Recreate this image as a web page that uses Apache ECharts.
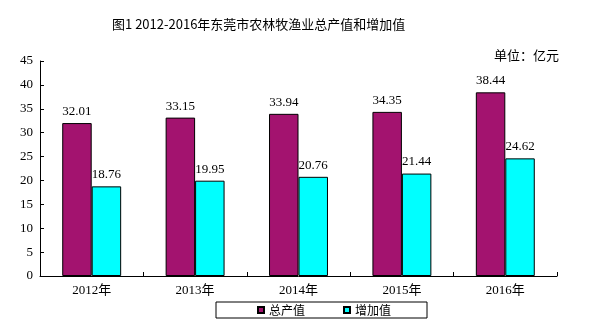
<!DOCTYPE html>
<html>
<head>
<meta charset="utf-8">
<script src="https://cdn.jsdelivr.net/npm/echarts@6/dist/echarts.min.js"></script>
<style>
  html, body { margin: 0; padding: 0; background: #fff; }
  #chart { width: 605px; height: 332px; }
</style>
</head>
<body>
<div id="chart"></div>
<script>
// Gross output and value added of agriculture, forestry, animal husbandry and fishery (100 million yuan)
var years = ['2012年', '2013年', '2014年', '2015年', '2016年'];
var grossOutput = [32.01, 33.15, 33.94, 34.35, 38.44];
var valueAdded = [18.76, 19.95, 20.76, 21.44, 24.62];
var seriesNames = ['总产值', '增加值'];

var FONT = '"Liberation Serif", "Noto Sans CJK SC", serif';
var CJK = '"Noto Sans CJK SC", sans-serif';

var chart = echarts.init(document.getElementById('chart'), null, { renderer: 'canvas' });

var labelStyle = {
  show: true,
  position: 'top',
  distance: 5,
  color: '#000',
  fontSize: 13,
  fontFamily: FONT,
  formatter: function (p) { return p.value.toFixed(2); }
};

chart.setOption({
  animation: false,
  backgroundColor: '#fff',
  title: [{
    text: '图1 2012-2016年东莞市农林牧渔业总产值和增加值',
    left: 107,
    top: 13,
    textStyle: { fontSize: 13, fontWeight: 'normal', color: '#000', fontFamily: CJK }
  }, {
    text: '单位：亿元',
    left: 489,
    top: 44,
    textStyle: { fontSize: 13, fontWeight: 'normal', color: '#000', fontFamily: CJK }
  }],
  legend: {
    data: seriesNames,
    left: 216,
    top: 302,
    icon: 'rect',
    itemWidth: 6,
    itemHeight: 6,
    itemGap: 38,
    padding: [2, 36, 2, 41],
    borderColor: '#000',
    borderWidth: 1,
    textStyle: { fontSize: 12, color: '#000', fontFamily: CJK }
  },
  grid: { left: 40, right: 48, top: 61, bottom: 56 },
  xAxis: {
    type: 'category',
    data: years,
    axisLine: { lineStyle: { color: '#000', width: 1 } },
    axisTick: { show: true, inside: true, length: 4, lineStyle: { color: '#000' } },
    axisLabel: { color: '#000', fontSize: 13, fontFamily: FONT, margin: 8 }
  },
  yAxis: {
    type: 'value',
    min: 0,
    max: 45,
    interval: 5,
    splitLine: { show: false },
    axisLine: { show: true, lineStyle: { color: '#000', width: 1 } },
    axisTick: { show: true, inside: true, length: 4, lineStyle: { color: '#000' } },
    axisLabel: { color: '#000', fontSize: 13, fontFamily: FONT, margin: 7 }
  },
  series: [{
    name: seriesNames[0],
    type: 'bar',
    data: grossOutput,
    barWidth: '28.5%',
    barGap: '0%',
    itemStyle: { color: '#a3136f', borderColor: '#000', borderWidth: 1 },
    label: labelStyle
  }, {
    name: seriesNames[1],
    type: 'bar',
    data: valueAdded,
    barWidth: '28.5%',
    barGap: '0%',
    itemStyle: { color: '#00ffff', borderColor: '#000', borderWidth: 1 },
    label: labelStyle
  }]
});
</script>
</body>
</html>
